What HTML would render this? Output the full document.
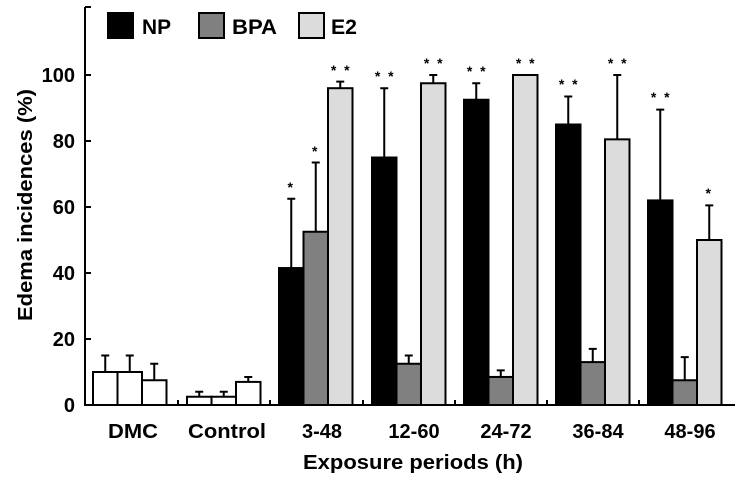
<!DOCTYPE html>
<html><head><style>body{margin:0;background:#fff}svg{display:block}text{font-family:"Liberation Sans",Arial,sans-serif;font-weight:bold}</style></head>
<body>
<svg width="742" height="485" viewBox="0 0 742 485" xmlns="http://www.w3.org/2000/svg">
<g stroke="#000" stroke-width="2" fill="none">
<line x1="85" y1="7" x2="85" y2="406"/>
<line x1="84" y1="405" x2="735" y2="405"/>
<line x1="85" y1="7" x2="91" y2="7"/>
<line x1="85" y1="75" x2="91" y2="75"/><line x1="85" y1="141" x2="91" y2="141"/><line x1="85" y1="207" x2="91" y2="207"/><line x1="85" y1="273" x2="91" y2="273"/><line x1="85" y1="339" x2="91" y2="339"/>
<line x1="178" y1="405" x2="178" y2="400"/><line x1="270" y1="405" x2="270" y2="400"/><line x1="363" y1="405" x2="363" y2="400"/><line x1="455" y1="405" x2="455" y2="400"/><line x1="547" y1="405" x2="547" y2="400"/><line x1="639" y1="405" x2="639" y2="400"/>
</g>
<g font-size="20" text-anchor="end">
<text x="75" y="82">100</text><text x="75" y="148">80</text><text x="75" y="214">60</text><text x="75" y="280">40</text><text x="75" y="346">20</text><text x="75" y="412">0</text>
</g>
<text transform="translate(32,205) rotate(-90)" font-size="20" text-anchor="middle" textLength="232" lengthAdjust="spacingAndGlyphs">Edema incidences (%)</text>
<g font-size="20" text-anchor="middle">
<text x="133" y="438" textLength="50" lengthAdjust="spacingAndGlyphs">DMC</text>
<text x="227" y="438" textLength="78" lengthAdjust="spacingAndGlyphs">Control</text>
<text x="322" y="438">3-48</text><text x="414" y="438">12-60</text><text x="506" y="438">24-72</text><text x="598" y="438">36-84</text><text x="690" y="438">48-96</text>
</g>
<text x="413" y="469" font-size="20" text-anchor="middle" textLength="220" lengthAdjust="spacingAndGlyphs">Exposure periods (h)</text>
<g stroke="#000" stroke-width="2">
<rect x="108" y="13" width="25" height="25" fill="#000"/>
<rect x="199" y="13" width="25" height="25" fill="#808080"/>
<rect x="299" y="13" width="25" height="25" fill="#dcdcdc"/>
</g>
<g font-size="21"><text x="142" y="34" textLength="29" lengthAdjust="spacingAndGlyphs">NP</text><text x="232" y="34" textLength="45" lengthAdjust="spacingAndGlyphs">BPA</text><text x="331" y="34" textLength="26" lengthAdjust="spacingAndGlyphs">E2</text></g>

<g stroke="#000" stroke-width="2">
<path fill="none" d="
M105.25 372V355.5M101.25 355.5H109.25
M129.75 372V355.5M125.75 355.5H133.75
M154.25 380.25V363.75M150.25 363.75H158.25
M199.25 396.75V391.8M195.25 391.8H203.25
M223.75 396.75V391.8M219.75 391.8H227.75
M248.25 381.9V376.95M244.25 376.95H252.25
M291.25 268V198.75M287.25 198.75H295.25
M315.75 231.75V162.45M311.75 162.45H319.75
M340.25 88.2V81.6M336.25 81.6H344.25
M384.25 157.5V88.2M380.25 88.2H388.25
M408.75 363.75V355.5M404.75 355.5H412.75
M433.25 83.25V75M429.25 75H437.25
M476.25 99.75V83.25M472.25 83.25H480.25
M500.75 376.95V370.35M496.75 370.35H504.75
M568.25 124.5V96.45M564.25 96.45H572.25
M592.75 362.1V348.9M588.75 348.9H596.75
M617.25 139.35V75M613.25 75H621.25
M660.25 200.4V109.65M656.25 109.65H664.25
M684.75 380.25V357.15M680.75 357.15H688.75
M709.25 240V205.35M705.25 205.35H713.25"/>
<rect x="93" y="372" width="24.5" height="33" fill="#fff"/>
<rect x="117.5" y="372" width="24.5" height="33" fill="#fff"/>
<rect x="142" y="380.25" width="24.5" height="24.75" fill="#fff"/>
<rect x="187" y="396.75" width="24.5" height="8.25" fill="#fff"/>
<rect x="211.5" y="396.75" width="24.5" height="8.25" fill="#fff"/>
<rect x="236" y="381.9" width="24.5" height="23.1" fill="#fff"/>
<rect x="279" y="268.05" width="24.5" height="136.95" fill="#000"/>
<rect x="303.5" y="231.75" width="24.5" height="173.25" fill="#808080"/>
<rect x="328" y="88.2" width="24.5" height="316.8" fill="#dcdcdc"/>
<rect x="372" y="157.5" width="24.5" height="247.5" fill="#000"/>
<rect x="396.5" y="363.75" width="24.5" height="41.25" fill="#808080"/>
<rect x="421" y="83.25" width="24.5" height="321.75" fill="#dcdcdc"/>
<rect x="464" y="99.75" width="24.5" height="305.25" fill="#000"/>
<rect x="488.5" y="376.95" width="24.5" height="28.05" fill="#808080"/>
<rect x="513" y="75" width="24.5" height="330" fill="#dcdcdc"/>
<rect x="556" y="124.5" width="24.5" height="280.5" fill="#000"/>
<rect x="580.5" y="362.1" width="24.5" height="42.9" fill="#808080"/>
<rect x="605" y="139.35" width="24.5" height="265.65" fill="#dcdcdc"/>
<rect x="648" y="200.4" width="24.5" height="204.6" fill="#000"/>
<rect x="672.5" y="380.25" width="24.5" height="24.75" fill="#808080"/>
<rect x="697" y="240" width="24.5" height="165" fill="#dcdcdc"/>
</g>
<g font-size="14" text-anchor="middle" letter-spacing="2">
<text x="291.25" y="192">*</text>
<text x="315.75" y="156">*</text>
<text x="341.25" y="75">* *</text>
<text x="385.25" y="81">* *</text>
<text x="434.25" y="68">* *</text>
<text x="477.25" y="76">* *</text>
<text x="526.25" y="68">* *</text>
<text x="569.25" y="89">* *</text>
<text x="618.25" y="68">* *</text>
<text x="661.25" y="102">* *</text>
<text x="709.25" y="198">*</text>
</g>
</svg>
</body></html>
